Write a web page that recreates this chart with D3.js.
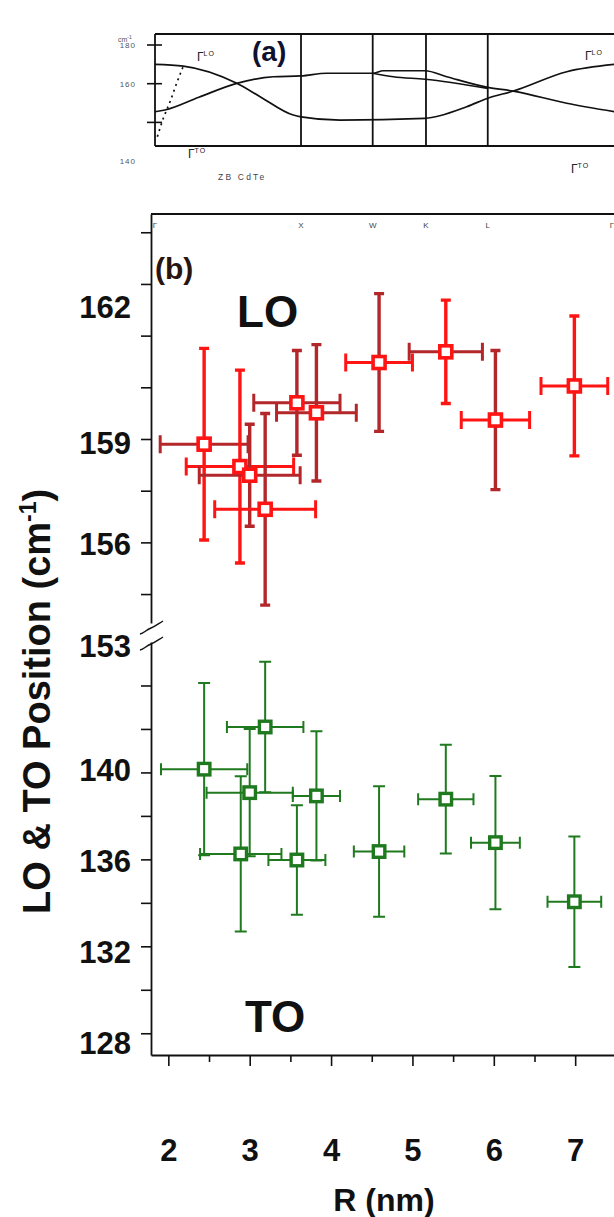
<!DOCTYPE html>
<html>
<head>
<meta charset="utf-8">
<script src="https://cdn.jsdelivr.net/npm/d3@7"></script>
<style>
  body{margin:0;background:#fff}
  svg{display:block;font-family:"Liberation Sans",Arial,sans-serif}
</style>
</head>
<body>
<svg id="chart" width="614" height="1217"></svg>
<script>
'use strict'

// ---- (b) LO branch: dot radius R (nm) vs frequency (cm-1)
const loR       = [2.44, 2.88, 3.00, 3.19, 3.58, 3.82, 4.59, 5.41, 6.02, 6.99]
const loRErr    = [0.54, 0.66, 0.62, 0.62, 0.53, 0.49, 0.41, 0.45, 0.42, 0.41]
const loFreq    = [158.85, 158.20, 157.95, 156.96, 160.05, 159.76, 161.22, 161.53, 159.55, 160.54]
const loFreqErr = [2.78, 2.80, 1.48, 2.78, 1.52, 1.98, 2.00, 1.50, 2.02, 2.03]

// ---- (b) TO branch
const toR       = [2.44, 3.19, 3.00, 2.89, 3.82, 3.58, 4.59, 5.41, 6.02, 6.99]
const toRErr    = [0.53, 0.47, 0.53, 0.50, 0.29, 0.35, 0.31, 0.34, 0.30, 0.33]
const toFreq    = [140.15, 142.09, 139.07, 136.25, 138.92, 135.97, 136.36, 138.77, 136.77, 134.05]
const toFreqErr = [3.96, 3.00, 2.93, 3.57, 2.97, 2.52, 3.00, 2.50, 3.07, 3.00]

// ---- (b) ticks / labels
const xTickLabels   = [2, 3, 4, 5, 6, 7]
const xMinorTicks   = [2.5, 3.5, 4.5, 5.5, 6.5, 7.5]
const yUpTicks      = [154.5, 156, 157.5, 159, 160.5, 162, 163.5, 165]
const yUpLabels     = [162, 159, 156, 153]
const yLoTicks      = [128, 130, 132, 134, 136, 138, 140, 142, 144]
const yLoLabels     = [140, 136, 132, 128]

// ---- (a) phonon dispersion of ZB CdTe along the path
const pathNames = ["Γ", "X", "W", "K", "L", "Γ"]
const pathK     = [0, 1, 1.491, 1.856, 2.279, 3.13]
const dispA_k = [0, 0.194, 0.56, 0.72, 0.947, 1.0, 1.267, 1.849, 2.135, 2.279, 2.454, 2.82, 3.15]
const dispA_f = [170.0, 169.1, 160.2, 153.3, 143.8, 142.9, 141.2, 142.1, 148.1, 152.5, 156.2, 166.2, 170.0]
const dispB_k = [0, 0.068, 0.3, 0.56, 0.81, 1.0, 1.176, 1.491, 1.564, 1.849, 1.998, 2.279, 2.454, 2.82, 3.15]
const dispB_f = [145.5, 146.4, 153.0, 160.2, 163.6, 164.0, 165.4, 165.4, 166.7, 166.7, 163.6, 158.1, 156.2, 149.9, 145.5]
const dispC_k = [1.491, 1.633, 1.849, 2.279]
const dispC_f = [165.4, 163.6, 162.3, 157.6]
const dispD_k = [0.016, 0.057, 0.103, 0.148, 0.194]
const dispD_f = [132.6, 142.1, 150.7, 160.2, 169.1]
const aTicks  = [180, 160, 140]

// bar colours per LO point (vertical / horizontal)
const RED = "#ff1414", DARK = "#b3272b", GREEN = "#1f7a1f"
const loVColor = [RED, RED, DARK, DARK, DARK, DARK, DARK, RED, DARK, RED]
const loHColor = [DARK, RED, DARK, RED, DARK, DARK, RED, DARK, RED, RED]

const svg = d3.select("#chart")
svg.append("rect").attr("width",614).attr("height",1217).attr("fill","#fff")

// ================= panel (a) =================
const kScale = d3.scaleLinear().domain([0, 3.13]).range([155, 612])
const fScale = d3.scaleLinear().domain([180, 160]).range([45, 83.7])
const aTop = 34, aBottom = 146

const ga = svg.append("g")
ga.append("path")
  .attr("d",`M${kScale(0)},${aTop}H640M${kScale(0)},${aBottom}H640M${kScale(0)},${aTop}V${aBottom}`)
  .attr("stroke","#111").attr("stroke-width",1.8).attr("fill","none")

ga.selectAll(".sym").data(pathK.slice(1,5)).join("line")
  .attr("x1",d=>kScale(d)).attr("x2",d=>kScale(d))
  .attr("y1",aTop).attr("y2",aBottom)
  .attr("stroke","#111").attr("stroke-width",1.8)

ga.selectAll(".atick").data(aTicks).join("line")
  .attr("x1",kScale(0)-8).attr("x2",kScale(0)+7)
  .attr("y1",d=>fScale(d)).attr("y2",d=>fScale(d))
  .attr("stroke","#111").attr("stroke-width",1.6)

// tick labels of (a) sit loosely; the last one is dropped below the frame
const aLabelShift = [3, 3, 42]
ga.selectAll(".alab").data(aTicks).join("text")
  .attr("x",136).attr("y",(d,i)=>fScale(d)+aLabelShift[i])
  .attr("text-anchor","end").attr("font-size",8).attr("fill","#555")
  .attr("letter-spacing",1)
  .text(d=>d)

ga.append("text").attr("x",118).attr("y",42).attr("font-size",7).attr("fill","#555")
  .text("cm").append("tspan").attr("dy",-3).attr("font-size",5).text("-1")

const dispLine = d3.line().x(d=>kScale(d[0])).y(d=>fScale(d[1])).curve(d3.curveMonotoneX)
const curves = [
  [dispA_k, dispA_f, null],
  [dispB_k, dispB_f, null],
  [dispC_k, dispC_f, null],
  [dispD_k, dispD_f, "2,4"]
]
curves.forEach(([k,f,dash])=>{
  ga.append("path")
    .attr("d",dispLine(k.map((v,i)=>[v,f[i]])))
    .attr("fill","none").attr("stroke","#111").attr("stroke-width",1.7)
    .attr("stroke-dasharray",dash)
})

function gammaLabel(x, y, sub){
  const t = ga.append("text").attr("x",x).attr("y",y).attr("font-size",12).attr("fill","#222")
  t.append("tspan").text("Γ")
  t.append("tspan").attr("dy",-5).attr("font-size",7).attr("letter-spacing",1).text(sub)
}
gammaLabel(197, 61, "LO")
gammaLabel(585, 60, "LO")
gammaLabel(188, 158, "TO")
gammaLabel(571, 173, "TO")

ga.append("text").attr("x",218).attr("y",180).attr("font-size",8.5)
  .attr("letter-spacing",2.2).attr("fill","#444").text("ZB CdTe")

ga.append("text").attr("x",252).attr("y",61).attr("font-size",28)
  .attr("font-weight","bold").attr("fill","#101030").text("(a)")

// ================= panel (b) =================
const xScale = d3.scaleLinear().domain([1.787, 7.6]).range([151, 624])
const yUp = d3.scaleLinear().domain([153.66, 165.53]).range([623, 214])
const yLo = d3.scaleLinear().domain([127, 146]).range([1055, 642])
const xAxisY = yLo.range()[0]

const gb = svg.append("g")

// top frame line + symmetry point names of (a) that spill into (b)
gb.append("line").attr("x1",xScale.range()[0]).attr("x2",xScale.range()[1])
  .attr("y1",yUp.range()[1]).attr("y2",yUp.range()[1])
  .attr("stroke","#111").attr("stroke-width",1.8)
gb.selectAll(".pn").data(pathNames).join("text")
  .attr("x",(d,i)=>kScale(pathK[i])).attr("y",228)
  .attr("text-anchor","middle").attr("font-size",8).attr("fill","#444")
  .text(d=>d)

// x axis
const gx = gb.append("g").attr("transform",`translate(0,${xAxisY})`)
  .call(d3.axisBottom(xScale).tickValues(xTickLabels).tickFormat(d3.format("d"))
    .tickSize(11).tickPadding(73).tickSizeOuter(0))
gx.select(".domain").attr("stroke","#111").attr("stroke-width",1.8)
gx.selectAll(".tick line").attr("stroke","#111").attr("stroke-width",1.6)
gx.selectAll(".tick text").attr("font-size",31).attr("font-weight","bold")
  .attr("font-family","Liberation Sans, Arial, sans-serif").attr("fill","#111")
const gxm = gb.append("g").attr("transform",`translate(0,${xAxisY})`)
  .call(d3.axisBottom(xScale).tickValues(xMinorTicks).tickSize(7).tickFormat(""))
gxm.select(".domain").remove()
gxm.selectAll(".tick line").attr("stroke","#111").attr("stroke-width",1.6)

gb.append("text").attr("x",xScale(4.65)).attr("y",1211)
  .attr("text-anchor","middle").attr("font-size",32).attr("font-weight","bold")
  .attr("fill","#111").text("R (nm)")

// y axis, broken in two pieces
const yAxisX = xScale.range()[0]
;[[yUp, yUpTicks],[yLo, yLoTicks]].forEach(([sc, tv])=>{
  const g = gb.append("g").attr("transform",`translate(${yAxisX},0)`)
    .call(d3.axisLeft(sc).tickValues(tv).tickSize(10).tickSizeOuter(0).tickFormat(""))
  g.select(".domain").attr("stroke","#111").attr("stroke-width",1.8)
  g.selectAll(".tick line").attr("stroke","#111").attr("stroke-width",1.6)
})

// break marks
;[yUp.range()[0]+5, yLo.range()[1]+2].forEach(y=>{
  gb.append("path")
    .attr("d",`M${yAxisX-11},${y+6} c4,-1 6,-4 11,-6 s7,-4 12,-7`)
    .attr("fill","none").attr("stroke","#111").attr("stroke-width",1.4)
})

// the labels were set by hand in the original, a little off their ticks
const upLabelShift = [-18, 14.5, 13, 11.5]
const loLabelShift = [9, 13, 17, 21]
gb.selectAll(".yul").data(yUpLabels).join("text")
  .attr("x",131).attr("y",(d,i)=>yUp(d)+upLabelShift[i])
  .attr("text-anchor","end").attr("font-size",31).attr("font-weight","bold")
  .attr("fill","#111").text(d=>d)
gb.selectAll(".yll").data(yLoLabels).join("text")
  .attr("x",131).attr("y",(d,i)=>yLo(d)+loLabelShift[i])
  .attr("text-anchor","end").attr("font-size",31).attr("font-weight","bold")
  .attr("fill","#111").text(d=>d)

const yTitle = gb.append("text")
  .attr("transform",`translate(50,${(yUp(156)+yLo(132))/2 - 43}) rotate(-90)`)
  .attr("text-anchor","middle").attr("font-size",38).attr("font-weight","bold")
  .attr("fill","#111")
yTitle.append("tspan").text("LO & TO Position (cm")
yTitle.append("tspan").attr("dy",-14).attr("font-size",23).text("-1")
yTitle.append("tspan").attr("dy",14).text(")")

gb.append("text").attr("x",155).attr("y",279).attr("font-size",30)
  .attr("font-weight","bold").attr("fill","#2a1410").text("(b)")
gb.append("text").attr("x",237).attr("y",327).attr("font-size",44)
  .attr("font-weight","bold").attr("fill","#111").text("LO")
gb.append("text").attr("x",245).attr("y",1032).attr("font-size",44)
  .attr("font-weight","bold").attr("fill","#111").text("TO")

// error-bar points
function drawPoints(data, y, st){
  const g = gb.append("g")
  const pts = g.selectAll("g").data(data).join("g")
  // vertical bars
  pts.append("path")
    .attr("d",d=>{
      const x = xScale(d.r), y0 = y(d.f-d.df), y1 = y(d.f+d.df)
      return `M${x},${y0}V${y1}M${x-st.capW},${y0}H${x+st.capW}M${x-st.capW},${y1}H${x+st.capW}`
    })
    .attr("stroke",d=>d.vc).attr("stroke-width",st.vw).attr("fill","none")
  // horizontal bars
  pts.append("path")
    .attr("d",d=>{
      const yy = y(d.f), x0 = xScale(d.r-d.dr), x1 = xScale(d.r+d.dr)
      return `M${x0},${yy}H${x1}M${x0},${yy-st.capH}V${yy+st.capH}M${x1},${yy-st.capH}V${yy+st.capH}`
    })
    .attr("stroke",d=>d.hc).attr("stroke-width",st.hw).attr("fill","none")
  g.selectAll("rect").data(data).join("rect")
    .attr("x",d=>xScale(d.r)-st.size/2).attr("y",d=>y(d.f)-st.size/2)
    .attr("width",st.size).attr("height",st.size)
    .attr("fill","#fff").attr("stroke",st.marker).attr("stroke-width",st.mw)
}

const loData = loR.map((r,i)=>({r, dr:loRErr[i], f:loFreq[i], df:loFreqErr[i], vc:loVColor[i], hc:loHColor[i]}))
const toData = toR.map((r,i)=>({r, dr:toRErr[i], f:toFreq[i], df:toFreqErr[i], vc:GREEN, hc:GREEN}))

drawPoints(loData, yUp, {capW:5, capH:9, vw:3.4, hw:3, size:12, mw:3.6, marker:RED})
drawPoints(toData, yLo, {capW:6, capH:6, vw:2, hw:2, size:11.5, mw:3.4, marker:GREEN})
</script>
</body>
</html>
